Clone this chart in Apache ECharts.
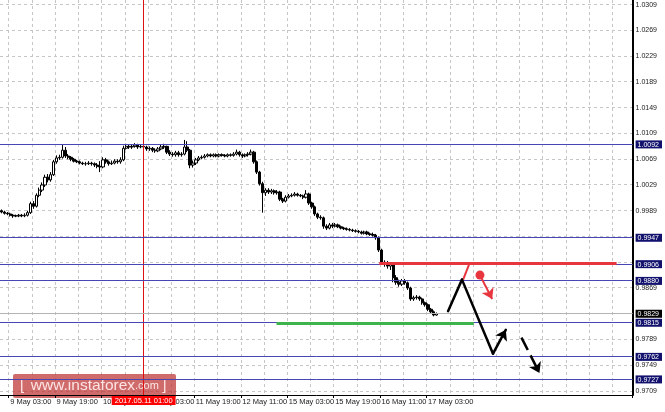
<!DOCTYPE html>
<html><head><meta charset="utf-8">
<script src="https://cdn.jsdelivr.net/npm/echarts@6/dist/echarts.min.js"></script>
<style>html,body{margin:0;padding:0;background:#fff}#c{width:665px;height:412px}</style>
</head><body><div id="c"></div>
<script>
// ---------- data ----------
const days = ['9 May','10 May','11 May','12 May','15 May','16 May','17 May'];
const open = [0.9989,0.9987,0.9985,0.9984,0.9982,0.9981,0.9981,0.9982,0.9981,0.9982,
0.9986,1.0000,0.9996,1.0013,1.0021,1.0029,1.0041,1.0037,1.0045,1.0065,
1.0071,1.0072,1.0083,1.0074,1.0072,1.0069,1.0066,1.0065,1.0063,1.0062,
1.0062,1.0063,1.0062,1.0060,1.0058,1.0057,1.0068,1.0065,1.0062,1.0063,
1.0066,1.0065,1.0068,1.0086,1.0089,1.0088,1.0089,1.0091,1.0088,1.0089,
1.0088,1.0085,1.0086,1.0083,1.0082,1.0085,1.0088,1.0089,1.0080,1.0077,
1.0076,1.0079,1.0076,1.0077,1.0088,1.0083,1.0060,1.0063,1.0068,1.0071,
1.0072,1.0074,1.0076,1.0074,1.0076,1.0074,1.0076,1.0075,1.0074,1.0076,
1.0075,1.0077,1.0080,1.0076,1.0074,1.0076,1.0077,1.0080,1.0065,1.0049,
1.0031,1.0017,1.0021,1.0018,1.0020,1.0017,1.0018,1.0007,1.0004,1.0010,
1.0012,1.0013,1.0015,1.0013,1.0012,1.0010,1.0015,1.0001,0.9995,0.9984,
0.9979,0.9978,0.9965,0.9962,0.9967,0.9965,0.9967,0.9964,0.9962,0.9961,
0.9960,0.9959,0.9958,0.9957,0.9956,0.9954,0.9956,0.9953,0.9952,0.9951,
0.9947,0.9928,0.9909,0.9908,0.9903,0.9906,0.9885,0.9878,0.9875,0.9880,
0.9877,0.9869,0.9852,0.9854,0.9855,0.9852,0.9846,0.9843,0.9836,0.9832,
0.9827];
const close = [0.9987,0.9985,0.9984,0.9982,0.9981,0.9981,0.9982,0.9981,0.9982,0.9986,
1.0000,0.9996,1.0013,1.0021,1.0029,1.0041,1.0037,1.0045,1.0065,1.0071,
1.0072,1.0083,1.0074,1.0072,1.0069,1.0066,1.0065,1.0063,1.0062,1.0062,
1.0063,1.0062,1.0060,1.0058,1.0057,1.0068,1.0065,1.0062,1.0063,1.0066,
1.0065,1.0068,1.0086,1.0089,1.0088,1.0089,1.0091,1.0088,1.0089,1.0088,
1.0085,1.0086,1.0083,1.0082,1.0085,1.0088,1.0089,1.0080,1.0077,1.0076,
1.0079,1.0076,1.0077,1.0088,1.0083,1.0060,1.0063,1.0068,1.0071,1.0072,
1.0074,1.0076,1.0074,1.0076,1.0074,1.0076,1.0075,1.0074,1.0076,1.0075,
1.0077,1.0080,1.0076,1.0074,1.0076,1.0077,1.0080,1.0065,1.0049,1.0031,
1.0017,1.0021,1.0018,1.0020,1.0017,1.0018,1.0007,1.0004,1.0010,1.0012,
1.0013,1.0015,1.0013,1.0012,1.0010,1.0015,1.0001,0.9995,0.9984,0.9979,
0.9978,0.9965,0.9962,0.9967,0.9965,0.9967,0.9964,0.9962,0.9961,0.9960,
0.9959,0.9958,0.9957,0.9956,0.9954,0.9956,0.9953,0.9952,0.9951,0.9947,
0.9928,0.9909,0.9908,0.9903,0.9906,0.9885,0.9878,0.9875,0.9880,0.9877,
0.9869,0.9852,0.9854,0.9855,0.9852,0.9846,0.9843,0.9836,0.9832,0.9827,
0.9829];
const high = [0.9991,0.9989,0.9987,0.9986,0.9984,0.9983,0.9984,0.9984,0.9985,0.9989,
1.0003,1.0004,1.0016,1.0025,1.0033,1.0045,1.0046,1.0049,1.0068,1.0075,
1.0076,1.0091,1.0088,1.0077,1.0074,1.0071,1.0068,1.0067,1.0065,1.0065,
1.0066,1.0065,1.0064,1.0063,1.0066,1.0072,1.0071,1.0067,1.0067,1.0069,
1.0069,1.0072,1.0090,1.0093,1.0092,1.0092,1.0094,1.0093,1.0092,1.0091,
1.0090,1.0089,1.0088,1.0086,1.0088,1.0092,1.0093,1.0090,1.0083,1.0080,
1.0082,1.0082,1.0080,1.0099,1.0097,1.0085,1.0067,1.0071,1.0074,1.0075,
1.0077,1.0078,1.0078,1.0078,1.0078,1.0078,1.0078,1.0077,1.0078,1.0078,
1.0080,1.0084,1.0082,1.0078,1.0078,1.0080,1.0084,1.0082,1.0067,1.0051,
1.0034,1.0024,1.0024,1.0023,1.0022,1.0021,1.0020,1.0009,1.0013,1.0015,
1.0016,1.0018,1.0017,1.0015,1.0014,1.0021,1.0017,1.0003,0.9997,0.9986,
0.9982,0.9980,0.9968,0.9970,0.9970,0.9970,0.9969,0.9966,0.9964,0.9963,
0.9962,0.9961,0.9960,0.9959,0.9958,0.9958,0.9958,0.9955,0.9955,0.9953,
0.9949,0.9930,0.9912,0.9911,0.9909,0.9908,0.9889,0.9882,0.9883,0.9883,
0.9879,0.9871,0.9857,0.9858,0.9857,0.9854,0.9848,0.9845,0.9838,0.9834,
0.9831];
const low = [0.9985,0.9983,0.9982,0.9980,0.9978,0.9979,0.9979,0.9979,0.9979,0.9980,
0.9984,0.9992,0.9994,1.0010,1.0018,1.0026,1.0033,1.0034,1.0043,1.0062,
1.0068,1.0070,1.0071,1.0069,1.0066,1.0064,1.0063,1.0061,1.0060,1.0059,
1.0060,1.0059,1.0057,1.0055,1.0049,1.0055,1.0062,1.0059,1.0060,1.0061,
1.0062,1.0062,1.0066,1.0084,1.0085,1.0085,1.0087,1.0085,1.0086,1.0085,
1.0082,1.0082,1.0080,1.0079,1.0080,1.0083,1.0085,1.0077,1.0074,1.0073,
1.0073,1.0073,1.0073,1.0075,1.0080,1.0055,1.0056,1.0060,1.0066,1.0069,
1.0070,1.0072,1.0072,1.0072,1.0072,1.0072,1.0073,1.0072,1.0072,1.0073,
1.0073,1.0075,1.0073,1.0071,1.0072,1.0073,1.0075,1.0062,1.0046,1.0028,
0.9986,1.0012,1.0015,1.0015,1.0014,1.0014,1.0004,1.0001,1.0002,1.0008,
1.0010,1.0011,1.0011,1.0010,1.0007,1.0008,0.9998,0.9992,0.9981,0.9976,
0.9975,0.9961,0.9959,0.9960,0.9962,0.9963,0.9962,0.9960,0.9959,0.9958,
0.9957,0.9956,0.9955,0.9954,0.9952,0.9952,0.9951,0.9950,0.9949,0.9944,
0.9925,0.9905,0.9902,0.9899,0.9897,0.9878,0.9874,0.9871,0.9872,0.9874,
0.9866,0.9849,0.9849,0.9851,0.9849,0.9843,0.9840,0.9833,0.9829,0.9825,
0.9826];
const tickLabels = ['9 May 03:00','9 May 19:00','10 May 11:00','11 May 03:00','11 May 19:00',
  '12 May 11:00','15 May 03:00','15 May 19:00','16 May 11:00','17 May 03:00'];
const gridValues = [1.0309,1.0269,1.0229,1.0189,1.0149,1.0109,1.0069,1.0029,0.9989,
  0.9949,0.9909,0.9869,0.9829,0.9789,0.9749,0.9709];
const levelValues = [1.0092,0.9947,0.9906,0.9880,0.9815,0.9762,0.9727];
const bidPrice = 0.9829;
const crosshairTime = '11 May 01:00';
const crosshairText = '2017.05.11 01:00';
const futureBars = 67;
// overlay drawings: [bar index, price]
const resistanceLine = [[130.2,0.9907],[212.0,0.9907]];
const supportLine = [[94.8,0.9815],[162.8,0.9815]];
const forecastMain = [[153.9,0.9833],[158.7,0.9882],[169.4,0.9767],[173.8,0.9804]];
const forecastAltUp = [[159.1,0.9882],[161.1,0.9905]];
const altSignalPoint = [[164.9,0.9889]];
const altSignalArrow = [[164.9,0.9889],[169.1,0.9852]];
const forecastNext = [[179.2,0.9792],[185.4,0.9737]];

// ---------- build ----------
const categories = [];
for (const d of days) for (let h = 0; h < 24; h++) categories.push(d + ' ' + String(h).padStart(2,'0') + ':00');
categories.length = open.length;
for (let k = 1; k <= futureBars; k++) categories.push('+' + k + 'h');
const N = categories.length;
const tickIdx = tickLabels.map(t => categories.indexOf(t));
const candles = open.map((o, i) => [o, close[i], low[i], high[i]]);
const crossIdx = categories.indexOf(crosshairTime);
const near = (a, b) => Math.abs(a - b) < 0.0005;
const labelValues = gridValues.filter(v => !levelValues.some(l => near(l, v)) && !near(bidPrice, v))
  .concat(levelValues, [bidPrice]);
const FONT = 'Liberation Sans';
const showTick = (idx) => tickIdx.indexOf(idx) >= 0;
const showGrid = (idx) => idx >= tickIdx[0] && (idx - tickIdx[0]) % 8 === 0;
const Y_MIN = 0.97028, Y_MAX = 1.03163;

const chart = echarts.init(document.getElementById('c'), null, {renderer: 'canvas'});
chart.setOption({
  animation: false,
  backgroundColor: '#ffffff',
  grid: {left: 0, right: 31, top: 0, bottom: 17, containLabel: false},
  xAxis: [{
    type: 'category', data: categories, boundaryGap: true,
    axisLine: {onZero: false, lineStyle: {color: '#000', width: 1}},
    axisTick: {show: true, interval: showTick, length: 3, lineStyle: {color: '#000'}},
    axisLabel: {interval: showTick, align: 'left', margin: 3, fontSize: 7.5, fontFamily: FONT, color: '#1a1a1a'},
    splitLine: {show: true, interval: showGrid, lineStyle: {color: '#c6c6c6', type: [3, 3], width: 1}}
  }, {
    type: 'value', min: -0.5, max: N - 0.5, show: false
  }],
  yAxis: {
    type: 'value', position: 'right', min: Y_MIN, max: Y_MAX, scale: true,
    axisLine: {show: true, onZero: false, lineStyle: {color: '#000', width: 2}},
    axisTick: {show: false}, splitLine: {show: false},
    axisLabel: {
      customValues: labelValues, margin: 3,
      formatter: (v) => {
        const s = v.toFixed(4);
        if (levelValues.some(l => Math.abs(l - v) < 1e-7)) return '{hl|' + s + '}';
        if (Math.abs(v - bidPrice) < 1e-7) return '{cur|' + s + '}';
        return '{n|' + s + '}';
      },
      rich: {
        n: {fontSize: 7, fontFamily: FONT, color: '#1a1a1a', lineHeight: 8},
        hl: {fontSize: 7, fontFamily: FONT, color: '#fff', backgroundColor: '#12126e', padding: [1, 3, 0, 2], lineHeight: 8},
        cur: {fontSize: 7, fontFamily: FONT, color: '#fff', backgroundColor: '#000', padding: [1, 3, 0, 2], lineHeight: 8}
      }
    }
  },
  series: [
    {
      name: 'price', type: 'candlestick', data: candles, z: 3, barWidth: 2.8,
      itemStyle: {color: '#ffffff', color0: '#000000', borderColor: '#000000', borderColor0: '#000000', borderWidth: 1}
    },
    { // crosshair
      name: 'crosshair', type: 'line', data: [], z: 4, silent: true,
      markLine: {
        silent: true, symbol: ['none', 'none'], animation: false, z: 4, precision: 6,
        data: [{xAxis: crossIdx, lineStyle: {color: '#e01010', width: 1, type: 'solid'},
          label: {show: true, position: 'start', formatter: crosshairText, distance: 1,
            backgroundColor: '#ff0000', color: '#fff', fontSize: 7.5, fontFamily: FONT, padding: [1, 3, 0, 3]}}]
      }
    },
    {
      name: 'drawings', type: 'lines', coordinateSystem: 'cartesian2d', xAxisIndex: 1, yAxisIndex: 0, z: 5, silent: true,
      symbol: ['none', 'none'],
      data: [
        {coords: supportLine, lineStyle: {color: '#3cb44b', width: 3, opacity: 1}},
        {coords: resistanceLine, lineStyle: {color: '#e8363f', width: 3, opacity: 1}},
        {coords: forecastAltUp, lineStyle: {color: '#e8363f', width: 2, opacity: 1}},
        {coords: forecastMain.slice(0, 2), lineStyle: {color: '#000', width: 2.5, opacity: 1, cap: 'round'}},
        {coords: forecastMain.slice(1, 3), lineStyle: {color: '#000', width: 2.5, opacity: 1, cap: 'round'}}
      ]
    },
    {
      name: 'arrows', type: 'lines', coordinateSystem: 'cartesian2d', xAxisIndex: 1, yAxisIndex: 0, z: 6, silent: true,
      symbol: ['none', 'arrow'], symbolSize: 10,
      data: [
        {coords: forecastMain.slice(2, 4), lineStyle: {color: '#000', width: 2.5, opacity: 1, cap: 'round'}},
        {coords: altSignalArrow, lineStyle: {color: '#e8363f', width: 2, opacity: 1}},
        {coords: forecastNext, lineStyle: {color: '#000', width: 2.5, opacity: 1, type: [14, 6]}}
      ]
    },
    {
      name: 'signal', type: 'scatter', xAxisIndex: 1, yAxisIndex: 0, z: 7, silent: true,
      data: altSignalPoint, symbolSize: 9, itemStyle: {color: '#e8363f', opacity: 1}
    }
  ]
});

// horizontal grid / level lines: positions from the library's y scale, snapped to whole pixels
const xLeft = chart.convertToPixel({xAxisIndex: 1}, -0.5);
const xRight = chart.convertToPixel({xAxisIndex: 1}, N - 0.5);
const snapY = (v) => Math.round(chart.convertToPixel({yAxisIndex: 0}, v) - 0.5) + 0.5;
const hRule = (v, style, z) => ({
  type: 'line', silent: true, z: z,
  shape: {x1: xLeft, y1: snapY(v), x2: xRight, y2: snapY(v)}, style: style
});
chart.setOption({
  graphic: [].concat(
    gridValues.map(v => hRule(v, {stroke: '#c6c6c6', lineWidth: 1, lineDash: [3, 3]}, 0)),
    [hRule(bidPrice, {stroke: '#b4b4b4', lineWidth: 1}, 4)],
    levelValues.map(v => hRule(v, {stroke: '#4646b4', lineWidth: 1}, 4)),
    [{
      type: 'group', left: 13, top: 374, z: 100, silent: true,
      children: [
        {type: 'rect', shape: {x: 0, y: 0, width: 163, height: 24, r: 2}, style: {fill: 'rgba(190,50,50,0.72)'}},
        {type: 'text', x: 7, y: 12, style: {
          text: '{b|[}  {w|www.instaforex}{c|.com} {b|]}', verticalAlign: 'middle',
          rich: {
            b: {fontSize: 15, fontFamily: FONT, fill: 'rgba(255,235,235,0.95)', color: 'rgba(255,235,235,0.95)'},
            w: {fontSize: 15.5, fontFamily: FONT, fill: 'rgba(255,235,235,0.95)', color: 'rgba(255,235,235,0.95)'},
            c: {fontSize: 11, fontFamily: FONT, fill: 'rgba(255,235,235,0.95)', color: 'rgba(255,235,235,0.95)'}
          }
        }}
      ]
    }]
  )
});
</script>
</body></html>
